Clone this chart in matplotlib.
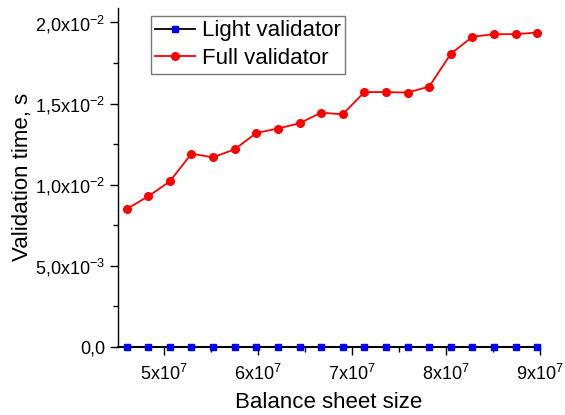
import matplotlib.pyplot as plt
from matplotlib.ticker import FuncFormatter, MultipleLocator

plt.rcParams['font.family'] = ['Liberation Sans', 'DejaVu Sans']
plt.rcParams['mathtext.fontset'] = 'custom'
plt.rcParams['mathtext.rm'] = 'Liberation Sans'
plt.rcParams['mathtext.it'] = 'Liberation Sans:italic'

# balance sheet sizes
sizes = [4.60e7, 4.83e7, 5.06e7, 5.29e7, 5.52e7, 5.75e7, 5.98e7, 6.21e7, 6.44e7, 6.67e7,
         6.90e7, 7.13e7, 7.36e7, 7.59e7, 7.82e7, 8.05e7, 8.28e7, 8.51e7, 8.74e7, 8.97e7]
full_times = [8.50e-3, 9.28e-3, 10.2e-3, 11.91e-3, 11.69e-3, 12.18e-3, 13.19e-3, 13.46e-3,
              13.79e-3, 14.44e-3, 14.34e-3, 15.71e-3, 15.71e-3, 15.68e-3, 16.05e-3,
              18.07e-3, 19.12e-3, 19.28e-3, 19.28e-3, 19.38e-3]
light_times = [1e-5] * 20


def y_fmt(v, pos):
    if abs(v) < 1e-12:
        return '0,0'
    exp = int(f'{v:e}'.split('e')[1])
    mant = v / 10 ** exp
    return f'{mant:.1f}'.replace('.', ',') + r'x10$^{' + str(exp) + '}$'


def x_fmt(v, pos):
    exp = int(f'{v:e}'.split('e')[1])
    mant = v / 10 ** exp
    return f'{mant:.0f}x10$^{{{exp}}}$'


fig = plt.figure(figsize=(5.65, 4.15), dpi=100)
ax = fig.add_axes([0.209, 0.164, 0.747, 0.817])

ax.plot(sizes, light_times, color='black', marker='s', markerfacecolor='blue',
        markeredgecolor='blue', markersize=4, linewidth=1.3, label='Light validator',
        clip_on=False, zorder=5)
ax.plot(sizes, full_times, color='red', marker='o', markersize=5.5,
        linewidth=1.3, label='Full validator', clip_on=False, zorder=4)

ax.set_xlim(4.51e7, 9.0e7)
ax.set_ylim(0, 0.0209)
ax.xaxis.set_major_locator(MultipleLocator(1e7))
ax.xaxis.set_minor_locator(MultipleLocator(0.5e7))
ax.yaxis.set_major_locator(MultipleLocator(5e-3))
ax.yaxis.set_minor_locator(MultipleLocator(2.5e-3))
ax.xaxis.set_major_formatter(FuncFormatter(x_fmt))
ax.yaxis.set_major_formatter(FuncFormatter(y_fmt))

ax.spines['top'].set_visible(False)
ax.spines['right'].set_visible(False)
ax.spines['bottom'].set_linewidth(1.5)
ax.spines['left'].set_linewidth(1.0)
ax.tick_params(which='major', direction='out', length=6, width=1, labelsize=13)
ax.tick_params(axis='x', which='major', pad=6)
ax.tick_params(which='minor', direction='out', length=3.5, width=1)

ax.set_xlabel('Balance sheet size', fontsize=16, labelpad=6)
ax.set_ylabel('Validation time, s', fontsize=16, labelpad=1)

leg = ax.legend(loc='upper left', bbox_to_anchor=(0.078, 0.976), fontsize=16,
                frameon=True, fancybox=False, edgecolor='#555555',
                handlelength=1.8, handletextpad=0.3, borderpad=0.2, labelspacing=0.3,
                borderaxespad=0)
leg.get_frame().set_linewidth(1.0)

fig.savefig('out.png', dpi=100)
